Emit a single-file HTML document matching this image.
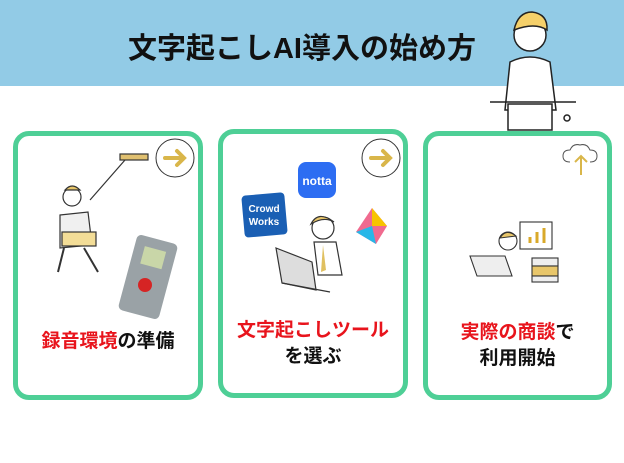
<!DOCTYPE html>
<html><head><meta charset="utf-8"><style>
body{margin:0;width:624px;height:463px;background:#fff;position:relative;overflow:hidden;font-family:"Liberation Sans","Noto Sans CJK JP",sans-serif}
.hdr{position:absolute;left:0;top:0;width:624px;height:86px;background:#92cbe6}
.title{position:absolute;left:0;width:604px;top:25px;text-align:center;font-size:29px;font-weight:bold;color:#111;letter-spacing:0px}
.card{position:absolute;box-sizing:border-box;border:5px solid #4ecf96;border-radius:16px;background:#fff}
.lbl{position:absolute;left:0;right:0;text-align:center;font-size:19px;font-weight:bold;color:#111;line-height:26px}
.r{color:#e8141c}
svg{position:absolute;left:0;top:0}
</style></head><body>
<div class="hdr"></div>
<div class="title">文字起こしAI導入の始め方</div>
<div class="card" style="left:13px;top:131px;width:190px;height:269px"><div class="lbl" style="top:193px"><span class="r">録音環境</span>の準備</div></div>
<div class="card" style="left:218px;top:129px;width:190px;height:269px"><div class="lbl" style="top:184px"><span class="r">文字起こしツール</span><br>を選ぶ</div></div>
<div class="card" style="left:423px;top:131px;width:189px;height:269px"><div class="lbl" style="top:184px"><span class="r">実際の商談</span>で<br>利用開始</div></div>
<svg width="624" height="463" viewBox="0 0 624 463">
<g stroke="#222" stroke-width="1.5" fill="#fff">
<path d="M505 110 L510 62 Q530 52 550 62 L556 110 Z"/>
<circle cx="530" cy="35" r="16" fill="#fff"/>
<path d="M514 30 Q518 12 532 12 Q548 14 547 30 Q535 22 514 30Z" fill="#f5d06a"/>
<line x1="490" y1="102" x2="576" y2="102"/>
<path d="M508 104 L552 104 L552 130 L508 130 Z"/>
<circle cx="567" cy="118" r="3"/>
</g>
<circle cx="175" cy="158" r="19" fill="#fff" stroke="#333" stroke-width="1"/>
<path d="M165 158 H183 M177 151 L184 158 L177 165" stroke="#d9b64a" stroke-width="4" fill="none" stroke-linecap="round"/>
<circle cx="381" cy="158" r="19" fill="#fff" stroke="#333" stroke-width="1"/>
<path d="M371 158 H389 M383 151 L390 158 L383 165" stroke="#d9b64a" stroke-width="4" fill="none" stroke-linecap="round"/>
<g stroke="#333" stroke-width="1.2" fill="#fff">
<line x1="90" y1="200" x2="125" y2="160"/>
<rect x="120" y="154" width="28" height="6" fill="#e0c070"/>
<circle cx="72" cy="197" r="9"/>
<path d="M65 190 Q72 182 80 190Z" fill="#e8c66a"/>
<path d="M60 215 L88 212 L92 245 L60 248Z" fill="#f0f0f0"/>
<rect x="62" y="232" width="34" height="14" fill="#f3dd97"/>
<path d="M64 248 L58 272 M84 248 L98 272" stroke-width="2"/>
</g>
<g>
<rect x="127" y="238" width="42" height="78" rx="5" fill="#9aa2a6" transform="rotate(15 148 277)"/>
<rect x="137" y="248" width="22" height="18" fill="#c9d6a8" transform="rotate(15 148 277)"/>
<circle cx="145" cy="285" r="7" fill="#d62424"/>
</g>
<rect x="298" y="162" width="38" height="36" rx="8" fill="#2d6df2"/>
<text x="317" y="185" font-size="12" font-weight="bold" fill="#fff" text-anchor="middle" font-family="Liberation Sans,sans-serif">notta</text>
<rect x="243" y="194" width="43" height="42" rx="4" fill="#1a5fb4" transform="rotate(-5 264 215)"/>
<text x="264" y="212" font-size="10" font-weight="bold" fill="#fff" text-anchor="middle" font-family="Liberation Sans,sans-serif">Crowd</text>
<text x="264" y="225" font-size="10" font-weight="bold" fill="#fff" text-anchor="middle" font-family="Liberation Sans,sans-serif">Works</text>
<path d="M372 208 L387 226 L376 244 L356 232Z" fill="#f06a8f"/>
<path d="M372 208 L387 226 L372 226Z" fill="#f7c400"/>
<path d="M356 232 L376 244 L372 226Z" fill="#27b7e8"/>
<g stroke="#333" stroke-width="1.2" fill="#fff">
<circle cx="323" cy="228" r="11"/>
<path d="M311 224 Q318 210 334 222 Q324 216 311 224Z" fill="#e8c66a"/>
<path d="M314 242 L336 242 L342 275 L318 275Z"/>
<path d="M276 248 L312 262 L316 290 L282 283Z" fill="#ddd"/>
<path d="M282 283 L330 292"/>
</g>
<path d="M323 245 L326 270 L321 272 Z" fill="#e0c060"/>
<path d="M570 162 Q563 162 563 156 Q563 150 570 150 Q573 143 580 145 Q587 143 590 150 Q597 150 597 156 Q597 162 590 162" fill="none" stroke="#555" stroke-width="1"/>
<path d="M581 175 V156 M575 162 L581 156 L587 162" stroke="#d9b64a" stroke-width="2" fill="none"/>
<g stroke="#333" stroke-width="1.1" fill="#fff">
<rect x="520" y="222" width="32" height="27"/>
<path d="M530 243 V237 M537 243 V232 M544 243 V228" stroke="#d9a92a" stroke-width="3"/>
<circle cx="508" cy="241" r="9"/>
<path d="M500 238 Q506 228 516 236Z" fill="#e8c66a"/>
<path d="M470 256 L505 256 L512 276 L477 276Z" fill="#eee"/>
<rect x="532" y="258" width="26" height="8" fill="#eee"/>
<rect x="532" y="266" width="26" height="10" fill="#e8c66a"/>
<rect x="532" y="276" width="26" height="6" fill="#eee"/>
</g>
</svg>
</body></html>
